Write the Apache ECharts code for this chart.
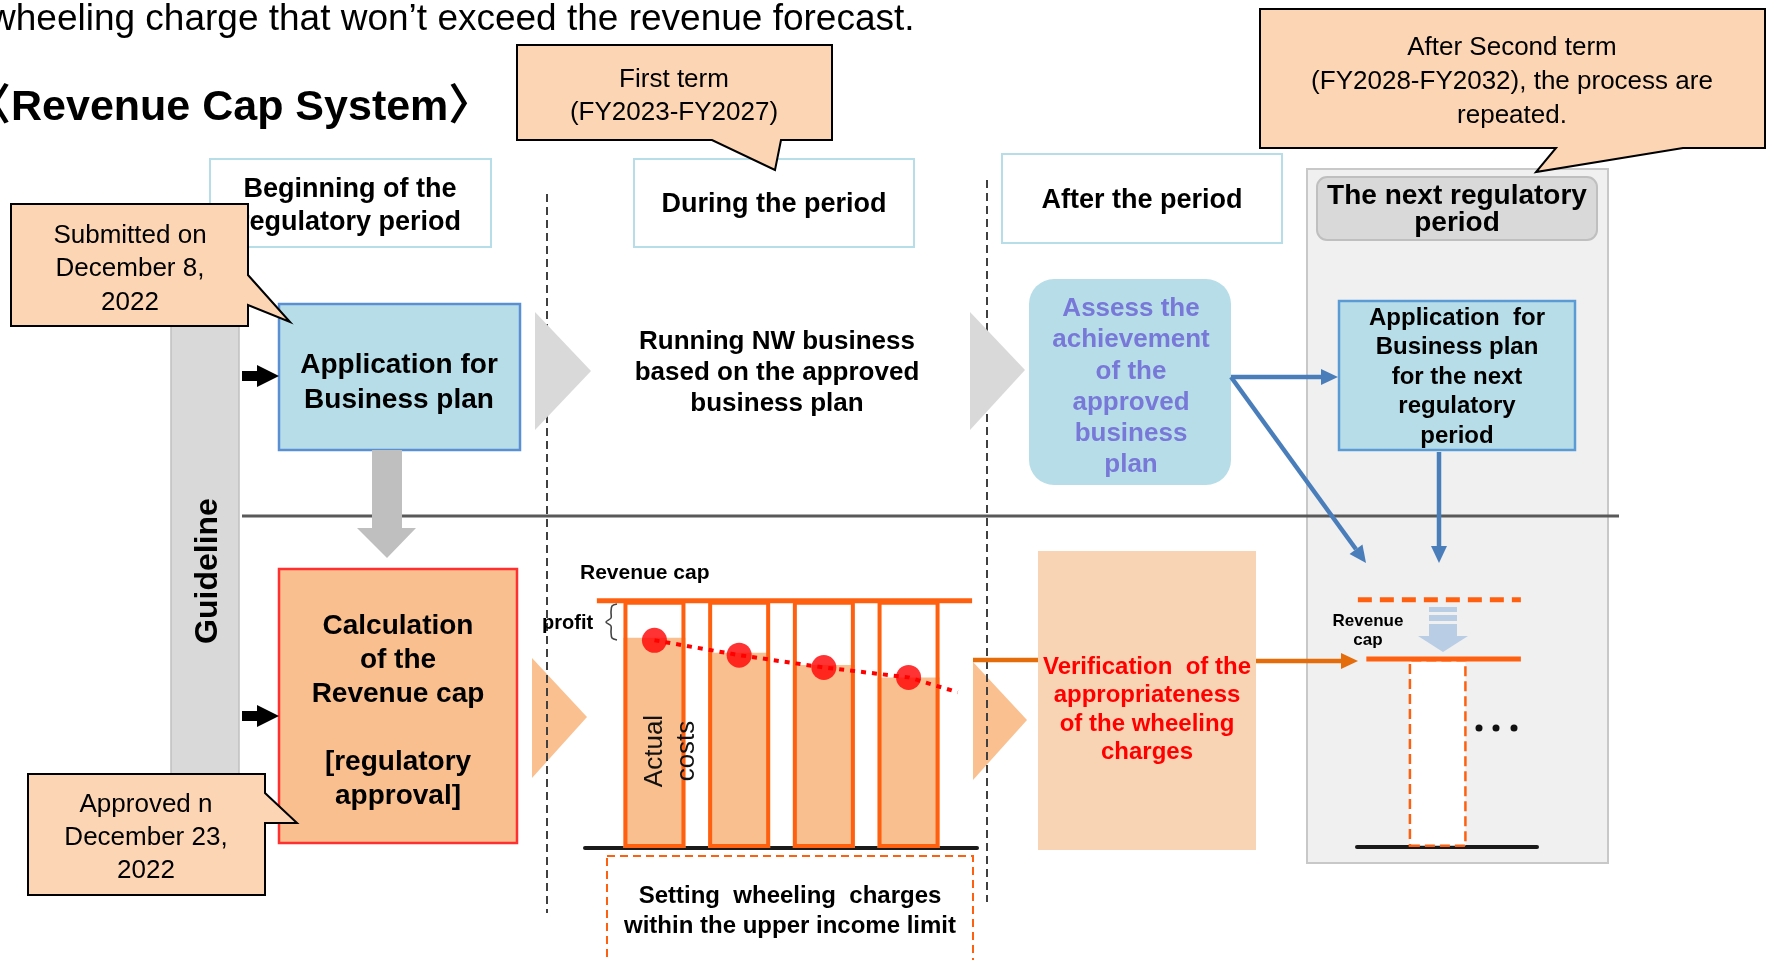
<!DOCTYPE html>
<html>
<head>
<meta charset="utf-8">
<script src="https://cdn.jsdelivr.net/npm/echarts@6/dist/echarts.min.js"></script>
<style>
  html, body { margin: 0; padding: 0; background: #fff; }
  #chart { width: 1767px; height: 960px; }
</style>
</head>
<body>
<div id="chart"></div>
<script>
// ---- data ----
const periods = [1, 2, 3, 4];
const revenueCap = [100, 100, 100, 100];
const actualCosts = [85, 79, 74, 69];
const costPoints = [84, 78, 73, 69];
const trendTail = [4.58, 63];         // where the dotted cost trend runs out
const nextCap = 76;                   // lowered cap in the next period
const prevCap = 100;

const introLine = 'wheeling charge that won\u2019t exceed the revenue forecast.';
const systemTitle = '\u3008Revenue Cap System\u3009';
const phaseHeaders = ['Beginning of the\nregulatory period', 'During the period', 'After the period', 'The next regulatory\nperiod'];
const calloutTexts = ['First term\n(FY2023-FY2027)', 'After Second term\n(FY2028-FY2032), the process are\nrepeated.', 'Submitted on\nDecember 8,\n2022', 'Approved n\nDecember 23,\n2022'];
const stepTexts = {
  apply: 'Application for\nBusiness plan',
  calc: 'Calculation\nof the\nRevenue cap\n\n[regulatory\napproval]',
  running: 'Running NW business\nbased on the approved\nbusiness plan',
  assess: 'Assess the\nachievement\nof the\napproved\nbusiness\nplan',
  nextApply: 'Application  for\nBusiness plan\nfor the next\nregulatory\nperiod',
  verify: 'Verification  of the\nappropriateness\nof the wheeling\ncharges',
  setting: 'Setting  wheeling  charges\nwithin the upper income limit'
};

// ---- helpers ----
const FONT = '"Liberation Sans", Arial, "Noto Sans CJK JP", sans-serif';
const font = (size, bold) => (bold ? 'bold ' : '') + size + 'px ' + FONT;

function rect(x, y, w, h, fill, stroke, lw, r, z, dash) {
  return {
    type: 'rect', silent: true, z: z || 0,
    shape: { x, y, width: w, height: h, r: r || 0 },
    style: { fill: fill || 'none', stroke: stroke || null, lineWidth: lw || 0, lineDash: dash || null }
  };
}
function poly(points, fill, stroke, lw, z) {
  return {
    type: 'polygon', silent: true, z: z || 0,
    shape: { points },
    style: { fill: fill || 'none', stroke: stroke || null, lineWidth: lw || 0, lineJoin: 'miter' }
  };
}
function line(x1, y1, x2, y2, stroke, lw, dash, z) {
  return {
    type: 'line', silent: true, z: z || 0,
    shape: { x1, y1, x2, y2 },
    style: { stroke, lineWidth: lw, lineDash: dash || null }
  };
}
function text(x, y, str, size, bold, color, opts) {
  opts = opts || {};
  const align = opts.align || 'center';
  return {
    type: 'text', silent: true, z: opts.z || 1,
    x, y, rotation: opts.rotation || 0,
    style: {
      text: str, x: 0, y: 0, font: font(size, bold), fill: color || '#000',
      align, textAlign: align, verticalAlign: 'middle', textVerticalAlign: 'middle',
      lineHeight: opts.lh || Math.round(size * 1.2)
    }
  };
}
function arrow(x1, y1, x2, y2, color, w, hl, hw, z) {
  const len = Math.hypot(x2 - x1, y2 - y1);
  const ux = (x2 - x1) / len, uy = (y2 - y1) / len;
  const bx = x2 - ux * hl, by = y2 - uy * hl;
  return [
    line(x1, y1, bx, by, color, w, null, z),
    poly([[x2, y2], [bx - uy * hw, by + ux * hw], [bx + uy * hw, by - ux * hw]], color, null, 0, z)
  ];
}
function blockArrow(x, cy, z) {
  // short black arrow pointing right
  return poly([[x, cy - 5], [x + 15, cy - 5], [x + 15, cy - 11], [x + 37, cy], [x + 15, cy + 11], [x + 15, cy + 5], [x, cy + 5]], '#000', null, 0, z);
}

const PEACH = '#fcd5b4';
const LIGHT_BLUE = '#b7dee8';
const ORANGE = '#ff6010';

const elements = [];

// titles
elements.push(text(-11, 20, introLine, 37, false, '#000', { align: 'left' }));
elements.push(text(-32, 108, systemTitle, 43, true, '#000', { align: 'left' }));

// next period panel
elements.push(rect(1307, 169, 301, 694, '#f0f0f0', '#c8c8c8', 2, 0, 0));
elements.push(rect(1317, 177, 280, 63, '#d9d9d9', '#bfbfbf', 2, 10, 1));
elements.push(text(1457, 210, phaseHeaders[3], 28, true, '#000', { lh: 27, z: 2 }));

// phase headers
elements.push(rect(210, 159, 281, 88, '#fff', '#b7dde8', 2, 0, 1));
elements.push(text(350, 206, phaseHeaders[0], 27, true, '#000', { lh: 33, z: 2 }));
elements.push(rect(634, 159, 280, 88, '#fff', '#b7dde8', 2, 0, 1));
elements.push(text(774, 205, phaseHeaders[1], 27, true, '#000', { z: 2 }));
elements.push(rect(1002, 154, 280, 89, '#fff', '#b7dde8', 2, 0, 1));
elements.push(text(1142, 201, phaseHeaders[2], 27, true, '#000', { z: 2 }));

// guideline bar
elements.push(rect(171, 215, 68, 575, '#d9d9d9', '#c0c0c0', 1.5, 0, 1));
elements.push(text(208, 571, 'Guideline', 32, true, '#000', { rotation: Math.PI / 2, z: 2 }));

// divider + period separators
elements.push(line(242, 516, 1619, 516, '#595959', 3, null, 1));
elements.push(line(547, 194, 547, 913, '#404040', 2, [8, 5], 1));
elements.push(line(987, 180, 987, 902, '#404040', 2, [8, 5], 1));

// chevrons
elements.push(poly([[535, 312], [591, 371], [535, 430]], '#d9d9d9', null, 0, 2));
elements.push(poly([[970, 312], [1025, 370], [970, 430]], '#d9d9d9', null, 0, 2));
elements.push(poly([[532, 658], [587, 717], [532, 778]], '#fac090', null, 0, 0));
elements.push(poly([[973, 662], [1027, 720], [973, 780]], '#fac090', null, 0, 0));

// beginning column
elements.push(rect(279, 304, 241, 146, LIGHT_BLUE, '#5b8fd4', 2.5, 0, 2));
elements.push(text(399, 383, stepTexts.apply, 28, true, '#000', { lh: 35, z: 3 }));
elements.push(poly([[372, 450], [402, 450], [402, 528], [416, 528], [387, 558], [357, 528], [372, 528]], '#bfbfbf', null, 0, 2));
elements.push(rect(279, 569, 238, 274, '#f9bf8f', '#ff3030', 2.5, 0, 2));
elements.push(text(398, 711, stepTexts.calc, 28, true, '#000', { lh: 34, z: 3 }));
elements.push(blockArrow(242, 376, 2));
elements.push(blockArrow(242, 716, 2));

// during column
elements.push(text(777, 373, stepTexts.running, 26, true, '#000', { lh: 31 }));
elements.push(text(580, 573, 'Revenue cap', 21, true, '#000', { align: 'left' }));
elements.push(text(542, 623, 'profit', 20, true, '#000', { align: 'left', z: 10 }));
elements.push({
  type: 'polyline', silent: true, z: 10,
  shape: { points: [[617, 604], [612, 606], [611, 612], [611, 618], [606, 622], [611, 626], [611, 632], [612, 638], [617, 640]], smooth: 0.3 },
  style: { fill: null, stroke: '#444', lineWidth: 1.6 }
});
elements.push(text(671, 751, 'Actual\ncosts', 26, false, '#111', { rotation: Math.PI / 2, lh: 32, z: 10 }));
elements.push(rect(607, 856, 366, 120, null, ORANGE, 2, 0, 1, [8, 5]));
elements.push(text(790, 911, stepTexts.setting, 24, true, '#000', { lh: 30 }));

// after column
elements.push(rect(1029, 279, 202, 206, LIGHT_BLUE, null, 0, 25, 1));
elements.push(text(1131, 387, stepTexts.assess, 26, true, '#7878d8', { lh: 31.2, z: 2 }));
elements.push(rect(1038, 551, 218, 299, '#f9d4b4', null, 0, 0, 1));
elements.push(text(1147, 710, stepTexts.verify, 24, true, '#ff0000', { lh: 28.5, z: 2 }));
elements.push(line(973, 660, 1038, 660, '#e46c0a', 4.5, null, 1));
elements.push(...arrow(1256, 661, 1358, 661, '#e46c0a', 4.5, 17, 8, 3));

// next period column
elements.push(rect(1339, 301, 236, 149, LIGHT_BLUE, '#5b9bd5', 2.5, 0, 2));
elements.push(text(1457, 377, stepTexts.nextApply, 24, true, '#000', { lh: 29.5, z: 3 }));
elements.push(...arrow(1231, 377, 1338, 377, '#4a7ebb', 4.5, 17, 8, 3));
elements.push(...arrow(1231, 377, 1366, 563, '#4a7ebb', 4.5, 17, 8, 3));
elements.push(...arrow(1439, 452, 1439, 563, '#4a7ebb', 4.5, 17, 8, 3));
elements.push(text(1368, 631, 'Revenue\ncap', 17, true, '#000', { lh: 19, z: 3 }));
elements.push(rect(1429, 607, 28, 5, '#b9cde5', null, 0, 0, 3));
elements.push(rect(1429, 615, 28, 6, '#b9cde5', null, 0, 0, 3));
elements.push(poly([[1429, 624], [1457, 624], [1457, 636], [1468, 636], [1443, 652], [1418, 636], [1429, 636]], '#b9cde5', null, 0, 3));
[1479, 1496, 1514].forEach(cx => elements.push({ type: 'circle', silent: true, z: 3, shape: { cx, cy: 728, r: 3.5 }, style: { fill: '#111' } }));

// callouts
const CALLOUT_Z = 8;
elements.push(poly([[517, 45], [832, 45], [832, 140], [781, 140], [775, 170], [712, 140], [517, 140]], PEACH, '#000', 2, CALLOUT_Z));
elements.push(text(674, 96, calloutTexts[0], 26, false, '#000', { lh: 33, z: CALLOUT_Z + 1 }));
elements.push(poly([[1260, 9], [1765, 9], [1765, 148], [1683, 148], [1536, 172], [1556, 148], [1260, 148]], PEACH, '#000', 2, CALLOUT_Z));
elements.push(text(1512, 82, calloutTexts[1], 26, false, '#000', { lh: 34, z: CALLOUT_Z + 1 }));
elements.push(poly([[11, 204], [248, 204], [248, 275], [290, 322], [248, 305], [248, 326], [11, 326]], PEACH, '#000', 2, CALLOUT_Z));
elements.push(text(130, 269, calloutTexts[2], 26, false, '#000', { lh: 33.5, z: CALLOUT_Z + 1 }));
elements.push(poly([[28, 774], [265, 774], [265, 793], [297, 823], [265, 823], [265, 895], [28, 895]], PEACH, '#000', 2, CALLOUT_Z));
elements.push(text(146, 838, calloutTexts[3], 26, false, '#000', { lh: 33, z: CALLOUT_Z + 1 }));

// ---- mini charts (cost bars inside the first term, cap in the next one) ----
const hiddenAxis = { axisTick: { show: false }, axisLabel: { show: false }, splitLine: { show: false } };

const option = {
  backgroundColor: '#fff',
  animation: false,
  grid: [
    { left: 585, top: 576, width: 392, height: 272 },
    { left: 1357, top: 575, width: 180, height: 272 }
  ],
  xAxis: [
    Object.assign({ gridIndex: 0, type: 'value', min: 0.18, max: 4.808, axisLine: { lineStyle: { color: '#1a1a1a', width: 4 } } }, hiddenAxis),
    Object.assign({ gridIndex: 1, type: 'value', min: -0.95, max: 1.17, axisLine: { lineStyle: { color: '#1a1a1a', width: 4 } } }, hiddenAxis)
  ],
  yAxis: [
    { gridIndex: 0, type: 'value', min: 0, max: 110, show: false },
    { gridIndex: 1, type: 'value', min: 0, max: 110, show: false }
  ],
  series: [
    {
      type: 'bar', name: 'Actual costs',
      data: periods.map((p, i) => [p, actualCosts[i]]),
      barWidth: 62, barGap: '-100%',
      itemStyle: { color: '#f9bf8f' }, z: 2
    },
    {
      type: 'bar', name: 'Revenue cap',
      data: periods.map((p, i) => [p, revenueCap[i]]),
      barWidth: 62, barGap: '-100%',
      itemStyle: { color: 'rgba(255,255,255,0)', borderColor: ORANGE, borderWidth: 4 }, z: 3
    },
    {
      type: 'line', name: 'cap line',
      data: [[0.32, revenueCap[0]], [4.75, revenueCap[0]]],
      showSymbol: false, lineStyle: { color: ORANGE, width: 5 }, z: 4
    },
    {
      type: 'line', name: 'cost trend',
      data: periods.map((p, i) => [p, costPoints[i]]).concat([trendTail]),
      showSymbol: false, lineStyle: { color: '#ff0000', width: 4, type: [5, 6] }, z: 5
    },
    {
      type: 'scatter', name: 'costs',
      data: periods.map((p, i) => [p, costPoints[i]]),
      symbolSize: 25, itemStyle: { color: '#ff0000' }, z: 6
    },
    {
      type: 'bar', name: 'next period', xAxisIndex: 1, yAxisIndex: 1,
      data: [[0, nextCap]], barWidth: 58,
      itemStyle: { color: '#fff', borderColor: ORANGE, borderWidth: 2.5, borderType: 'dashed' }, z: 2
    },
    {
      type: 'line', name: 'previous cap', xAxisIndex: 1, yAxisIndex: 1,
      data: [[-0.94, prevCap], [0.98, prevCap]],
      showSymbol: false, lineStyle: { color: ORANGE, width: 5, type: [14, 8] }, z: 3
    },
    {
      type: 'line', name: 'new cap', xAxisIndex: 1, yAxisIndex: 1,
      data: [[-0.84, nextCap], [0.98, nextCap]],
      showSymbol: false, lineStyle: { color: ORANGE, width: 5 }, z: 4
    }
  ],
  graphic: { elements }
};

const chart = echarts.init(document.getElementById('chart'));
chart.setOption(option);
</script>
</body>
</html>
